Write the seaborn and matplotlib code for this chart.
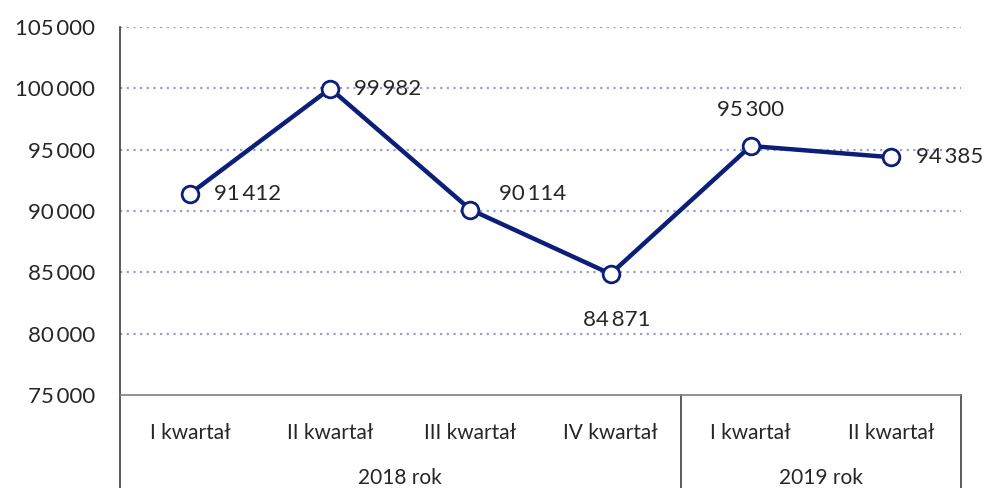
import matplotlib
matplotlib.use('Agg')
import matplotlib.pyplot as plt
import seaborn as sns

quarters = ['I kwartał', 'II kwartał', 'III kwartał', 'IV kwartał', 'I kwartał', 'II kwartał']
years = ['2018 rok', '2019 rok']
year_spans = [(0, 3), (4, 5)]
values = [91412, 99982, 90114, 84871, 95300, 94385]
labels = ['91\u2009412', '99\u2009982', '90\u2009114', '84\u2009871', '95\u2009300', '94\u2009385']
yticks = [75000, 80000, 85000, 90000, 95000, 100000, 105000]

sns.set_theme(style='white')
plt.rcParams['font.family'] = ['Lato', 'DejaVu Sans']

navy = '#0b1e78'
txt = '#262626'

fig = plt.figure(figsize=(9.87, 4.88), dpi=100)
ax = fig.add_axes([120 / 987, 1 - 395 / 488, (961 - 120) / 987, (395 - 27) / 488])

pos = list(range(len(values)))
sns.lineplot(x=pos, y=values, ax=ax, color=navy, linewidth=3.2, marker='o',
             markersize=12, markerfacecolor='white', markeredgecolor=navy,
             markeredgewidth=2, zorder=5)

ax.set_xlim(-0.5, 5.5)
ax.set_ylim(75000, 105000)
ax.set_yticks(yticks)
ax.set_yticklabels([f'{v:,}'.replace(',', '\u2009') for v in yticks], fontsize=16, color=txt)
ax.tick_params(axis='y', length=0, pad=18)
for v in yticks[1:]:
    ax.axhline(v, color='#9c9cd2', linestyle=(0, (1, 2)), linewidth=1.6, zorder=1)

ax.set_xticks(pos)
ax.set_xticklabels(quarters, fontsize=15, color=txt)
ax.tick_params(axis='x', length=0, pad=20)
ax.set_xlabel('')

for s in ['top', 'right']:
    ax.spines[s].set_visible(False)
ax.spines['left'].set_color('#404040')
ax.spines['bottom'].set_color('#7f7f7f')
ax.spines['left'].set_linewidth(1.2)
ax.spines['bottom'].set_linewidth(1.2)

# data labels
offsets = [(24, 0, 'left', 'center'), (24, 0, 'left', 'center'), (29, 16, 'left', 'center'),
           (6, -46, 'center', 'center'), (0, 36, 'center', 'center'), (25, 0, 'left', 'center')]
for x, v, lab, (dx, dy, ha, va) in zip(pos, values, labels, offsets):
    ax.annotate(lab, (x, v), xytext=(dx, dy), textcoords='offset pixels',
                ha=ha, va=va, fontsize=16, color=txt)

# category group boxes
trans = ax.get_xaxis_transform()
bottom = -93 / 368
for xv in [-0.5, 3.5, 5.5]:
    ax.plot([xv, xv], [0, bottom], transform=trans, color='#404040', lw=1.2, clip_on=False)
for yr, (a, b) in zip(years, year_spans):
    ax.text((a + b) / 2, -83 / 368, yr, transform=trans, ha='center', va='center',
            fontsize=15, color=txt)

fig.savefig('out.png', dpi=100)
